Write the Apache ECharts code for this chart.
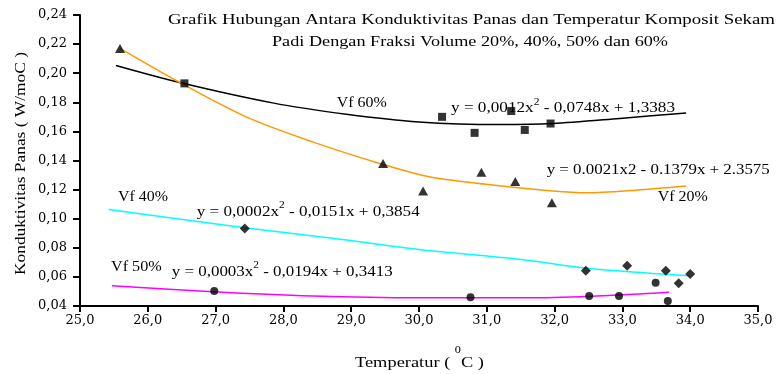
<!DOCTYPE html>
<html>
<head>
<meta charset="utf-8">
<script src="https://cdn.jsdelivr.net/npm/echarts@6/dist/echarts.min.js"></script>
<style>
html,body{margin:0;padding:0;background:#fff;}
#c{width:778px;height:374px;}
</style>
</head>
<body>
<div id="c"></div>
<script>
// ---- Data ----
const vf20Points = [[25.59,0.217],[29.47,0.138],[30.06,0.119],[30.92,0.132],[31.42,0.1256],[31.96,0.111]];
const vf60Points = [[26.54,0.193],[30.34,0.170],[30.82,0.159],[31.36,0.174],[31.56,0.161],[31.94,0.1654]];
const vf40Points = [[27.43,0.0933],[32.46,0.0642],[33.07,0.0677],[33.64,0.0642],[33.83,0.0556],[34.0,0.062]];
const vf50Points = [[26.98,0.0503],[30.76,0.046],[32.51,0.0469],[32.95,0.0469],[33.49,0.056],[33.67,0.0434]];

const fit60 = [[25.53,0.2053],[26.47,0.1936],[27.84,0.1796],[28.93,0.1718],[30.0,0.1665],[31.19,0.1647],[31.97,0.1654],[32.96,0.1689],[33.94,0.1727]];
const fit20 = [[25.59,0.217],[26.47,0.1936],[27.45,0.170],[28.43,0.1528],[29.42,0.138],[30.15,0.1288],[30.99,0.1236],[31.97,0.119],[32.47,0.1178],[33.2,0.1196],[33.94,0.1224]];
const fit40 = [[25.42,0.1064],[27.40,0.094],[28.93,0.0853],[30.0,0.0789],[31.48,0.0721],[32.47,0.0659],[33.45,0.0624],[33.99,0.0608]];
const fit50 = [[25.47,0.054],[26.96,0.0498],[28.43,0.0469],[30.0,0.0457],[31.7,0.0457],[32.96,0.0476],[33.69,0.0494]];

const xTicks = {min: 25, max: 35, step: 1};
const yTicks = {min: 0.04, max: 0.24, step: 0.02};

const titleLines = ['Grafik Hubungan Antara Konduktivitas Panas dan Temperatur Komposit Sekam',
                    'Padi Dengan Fraksi Volume 20%, 40%, 50% dan 60%'];
const seriesLabels = ['Vf 20%', 'Vf 40%', 'Vf 50%', 'Vf 60%'];
const eq60 = ['y = 0,0012x', '2', ' - 0,0748x + 1,3383'];
const eq20 = ['y = 0.0021x2 - 0.1379x + 2.3575'];
const eq40 = ['y = 0,0002x', '2', ' - 0,0151x + 0,3854'];
const eq50 = ['y = 0,0003x', '2', ' - 0,0194x + 0,3413'];
const xName = ['Temperatur ( ', '0', 'C )'];
const yName = 'Konduktivitas Panas ( W/moC )';

// ---- Rendering ----
const FF = '"Liberation Serif", "Times New Roman", serif';
const cv = document.createElement('canvas').getContext('2d');
function mw(t, size){ cv.font = size + 'px ' + FF; return cv.measureText(t).width; }

function txt(text, x, y, s, size, align){
  return {type:'text', x:x, y:y, scaleX:s, z:10,
    style:{text:text, x:0, y:0, fontSize:size, fontFamily:FF, fill:'#000',
      align:align||'left', verticalAlign:'middle'}};
}
function plainText(text, x, y, width, size, align){
  return txt(text, x, y, width / mw(text, size), size, align);
}
function supText(parts, x, y, width, size, supSize, rise){
  const w0 = mw(parts[0], size), w1 = mw(parts[1], supSize), w2 = mw(parts[2], size);
  const s = width / (w0 + w1 + w2);
  return [
    txt(parts[0], x, y, s, size),
    txt(parts[1], x + w0 * s, y - rise, s, supSize),
    txt(parts[2], x + (w0 + w1) * s, y, s, size)
  ];
}

const yNameEl = plainText(yName, 0, 0, 223, 15, 'center');
yNameEl.x = 21; yNameEl.y = 163.5; yNameEl.rotation = Math.PI/2;

const graphics = [
  plainText(titleLines[0], 471.5, 20.5, 607, 15, 'center'),
  plainText(titleLines[1], 470, 42, 396, 15, 'center'),
  plainText(seriesLabels[3], 336.7, 102.7, 50, 15),
  plainText(seriesLabels[0], 657.7, 196.7, 50, 15),
  plainText(seriesLabels[1], 118, 196.7, 50, 15),
  plainText(seriesLabels[2], 111, 267.3, 50.7, 15),
  ...supText(eq60, 451, 108, 224, 15, 10, 6),
  plainText(eq20[0], 546.7, 170, 223, 15),
  ...supText(eq40, 196.7, 211.7, 223, 15, 10, 6),
  ...supText(eq50, 171.7, 271.7, 221, 15, 10, 6),
  ...supText(xName, 355, 363.5, 129, 15, 10, 13),
  yNameEl
];

const fmt = (d)=> (v)=> v.toFixed(d).replace('.', ',');

function fitLine(data, color){
  return {type:'line', data:data, smooth:0.3, showSymbol:false, symbol:'none',
    lineStyle:{color:color, width:1.5}, z:2, silent:true};
}
function pts(data, symbol, size){
  return {type:'scatter', data:data, symbol:symbol, symbolSize:size,
    itemStyle:{color:'#000'}, z:5, silent:true};
}

const chart = echarts.init(document.getElementById('c'), null, {renderer:'canvas'});
chart.setOption({
  animation:false,
  backgroundColor:'#fff',
  grid:{left:80, right:20, top:15, bottom:68, containLabel:false},
  xAxis:{type:'value', min:xTicks.min, max:xTicks.max, interval:xTicks.step,
    axisLine:{lineStyle:{color:'#000', width:2}},
    axisTick:{show:true, inside:false, length:6, lineStyle:{color:'#000', width:2}},
    axisLabel:{formatter:fmt(1), color:'#000', fontFamily:'"DejaVu Serif", serif', fontSize:13, margin:8},
    splitLine:{show:false}},
  yAxis:{type:'value', min:yTicks.min, max:yTicks.max, interval:yTicks.step,
    axisLine:{show:true, lineStyle:{color:'#000', width:2}},
    axisTick:{show:true, inside:false, length:7, lineStyle:{color:'#000', width:2}},
    axisLabel:{formatter:fmt(2), color:'#000', fontFamily:'"DejaVu Serif", serif', fontSize:13, margin:13},
    splitLine:{show:false}},
  series:[
    fitLine(fit60, '#000000'),
    fitLine(fit20, '#FF9900'),
    fitLine(fit40, '#00FFFF'),
    fitLine(fit50, '#FF00FF'),
    pts(vf60Points, 'rect', 8),
    pts(vf20Points, 'triangle', [10,9]),
    pts(vf40Points, 'diamond', [10,10]),
    pts(vf50Points, 'circle', 8)
  ],
  graphic:graphics
});
</script>
</body>
</html>
